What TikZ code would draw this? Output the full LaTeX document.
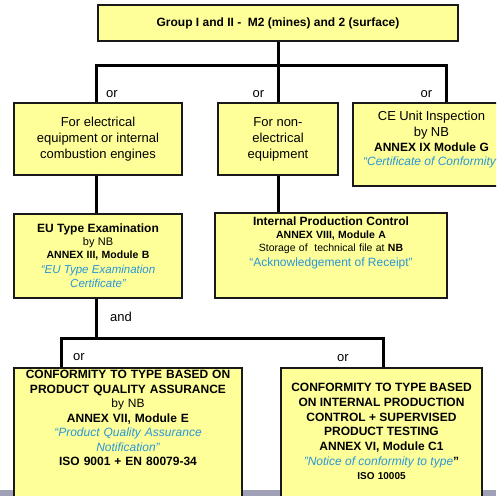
\documentclass[tikz,border=0pt]{standalone}
\usepackage{fontspec}
\setmainfont{Liberation Sans}
\usetikzlibrary{positioning}
\definecolor{BoxYellow}{RGB}{255,255,153}
\definecolor{NoteBlue}{RGB}{40,150,215}
\definecolor{BarGray}{RGB}{160,160,182}
\newcommand{\nbnote}[1]{{\color{NoteBlue}\itshape #1}}

\begin{document}
\begin{tikzpicture}[x=1pt, y=-1pt,
    box/.style={draw=black!90, line width=1.8pt, fill=BoxYellow, align=center, inner sep=2pt},
    boxtext/.style={align=center, inner sep=0pt},
    conn/.style={line width=3pt, black},
    lbl/.style={font=\fontsize{13}{15}\selectfont, inner sep=0pt}
  ]
  \clip (0,0) rectangle (496,496);
  \fill[BarGray] (0,490) rectangle (496,496);

  % group box
  \node[box, minimum width=360pt, minimum height=36pt, font=\bfseries\fontsize{12}{14}\selectfont] (group) at (278,23) {Group I and II -\ \ M2 (mines) and 2 (surface)};

  % first level
  \node[box, minimum width=168pt, minimum height=72pt, font=\fontsize{13}{16}\selectfont] (elec) at (98,139) {For electrical\\equipment or internal\\combustion engines};
  \node[box, minimum width=120pt, minimum height=72pt, font=\fontsize{13}{16}\selectfont] (nonelec) at (278,139) {For non-\\electrical\\equipment};
  \node[box, minimum width=157pt, minimum height=83pt] (ceunit) at (431.5,144.5) {};
  \node[boxtext, text width=150pt, below=9pt of ceunit.north] (ceunitText) {%
    {\fontsize{13}{16}\selectfont CE Unit Inspection\\by NB\par}
    {\bfseries\fontsize{12}{15}\selectfont ANNEX IX Module G\par}
    {\fontsize{12}{14}\selectfont\nbnote{“Certificate of Conformity”}\par}};

  % second level
  \node[box, minimum width=168pt, minimum height=84pt, text width=160pt] (eutype) at (98,256) {%
    {\bfseries\fontsize{12}{13}\selectfont EU Type Examination\par}
    {\fontsize{11}{13}\selectfont by NB\par}
    {\bfseries\fontsize{10.5}{13}\selectfont ANNEX III, Module B\par}
    {\fontsize{11.5}{14.5}\selectfont\nbnote{“EU Type Examination\\Certificate”}\par}};
  \node[box, minimum width=232pt, minimum height=85pt] (intprod) at (331,255.5) {};
  \node[boxtext, text width=225pt, below=5pt of intprod.north] (intprodText) {%
    {\bfseries\fontsize{12}{13}\selectfont Internal Production Control\par}
    {\bfseries\fontsize{10.5}{13}\selectfont ANNEX VIII, Module A\par}
    {\fontsize{10.5}{13}\selectfont Storage of\ \ technical file at \textbf{NB}\par}
    {\fontsize{12}{14}\selectfont\color{NoteBlue}“Acknowledgement of Receipt”\par}};

  % third level
  \node[box, minimum width=228pt, minimum height=152pt] (cqa) at (128,444) {};
  \node[boxtext, text width=222pt, below=3pt of cqa.north, font=\fontsize{12}{14.5}\selectfont] (cqaText) {%
    \textbf{CONFORMITY TO TYPE BASED ON}\\
    \textbf{PRODUCT QUALITY ASSURANCE}\\
    by NB\\
    \textbf{ANNEX VII, Module E}\\
    \nbnote{“Product Quality Assurance}\\
    \nbnote{Notification”}\\
    \textbf{ISO 9001 + EN 80079-34}};
  \node[box, minimum width=201pt, minimum height=152pt] (ctip) at (381.5,444) {};
  \node[boxtext, text width=195pt, below=16pt of ctip.north] (ctipText) {%
    {\bfseries\fontsize{12}{14.7}\selectfont CONFORMITY TO TYPE BASED\\ON INTERNAL PRODUCTION\\CONTROL + SUPERVISED\\PRODUCT TESTING\\ANNEX VI, Module C1\par}
    {\fontsize{12}{15}\selectfont\nbnote{"Notice of conformity to type}\textbf{”}\par}
    {\bfseries\fontsize{10}{14}\selectfont ISO 10005\par}};

  % connectors
  \coordinate (busL) at (96,65);
  \coordinate (busR) at (446,65);
  \coordinate (andL) at (61,338);
  \coordinate (andR) at (383.5,338);
  \draw[conn] (group.south) -- (group.south |- busL);
  \draw[conn] (busL |- elec.north) -- (busL) -- (busR) -- (busR |- ceunit.north);
  \draw[conn] (nonelec.north) -- (nonelec.north |- busL);
  \draw[conn] (elec.south -| busL) -- (eutype.north -| busL);
  \draw[conn] (nonelec.south) -- (nonelec.south |- intprod.north);
  \draw[conn] (eutype.south -| busL) -- (busL |- andL);
  \draw[conn] (andL |- cqa.north) -- (andL) -- (andR) -- (andR |- ctip.north);

  % labels
  \node[lbl] (orElec) at (112,94) {or};
  \node[lbl] (orNonelec) at (258.5,94) {or};
  \node[lbl] (orCeunit) at (426.5,94) {or};
  \node[lbl] (andEutype) at (121,317) {and};
  \node[lbl] (orCqa) at (79,357.5) {or};
  \node[lbl] (orCtip) at (343,358) {or};
\end{tikzpicture}
\end{document}
